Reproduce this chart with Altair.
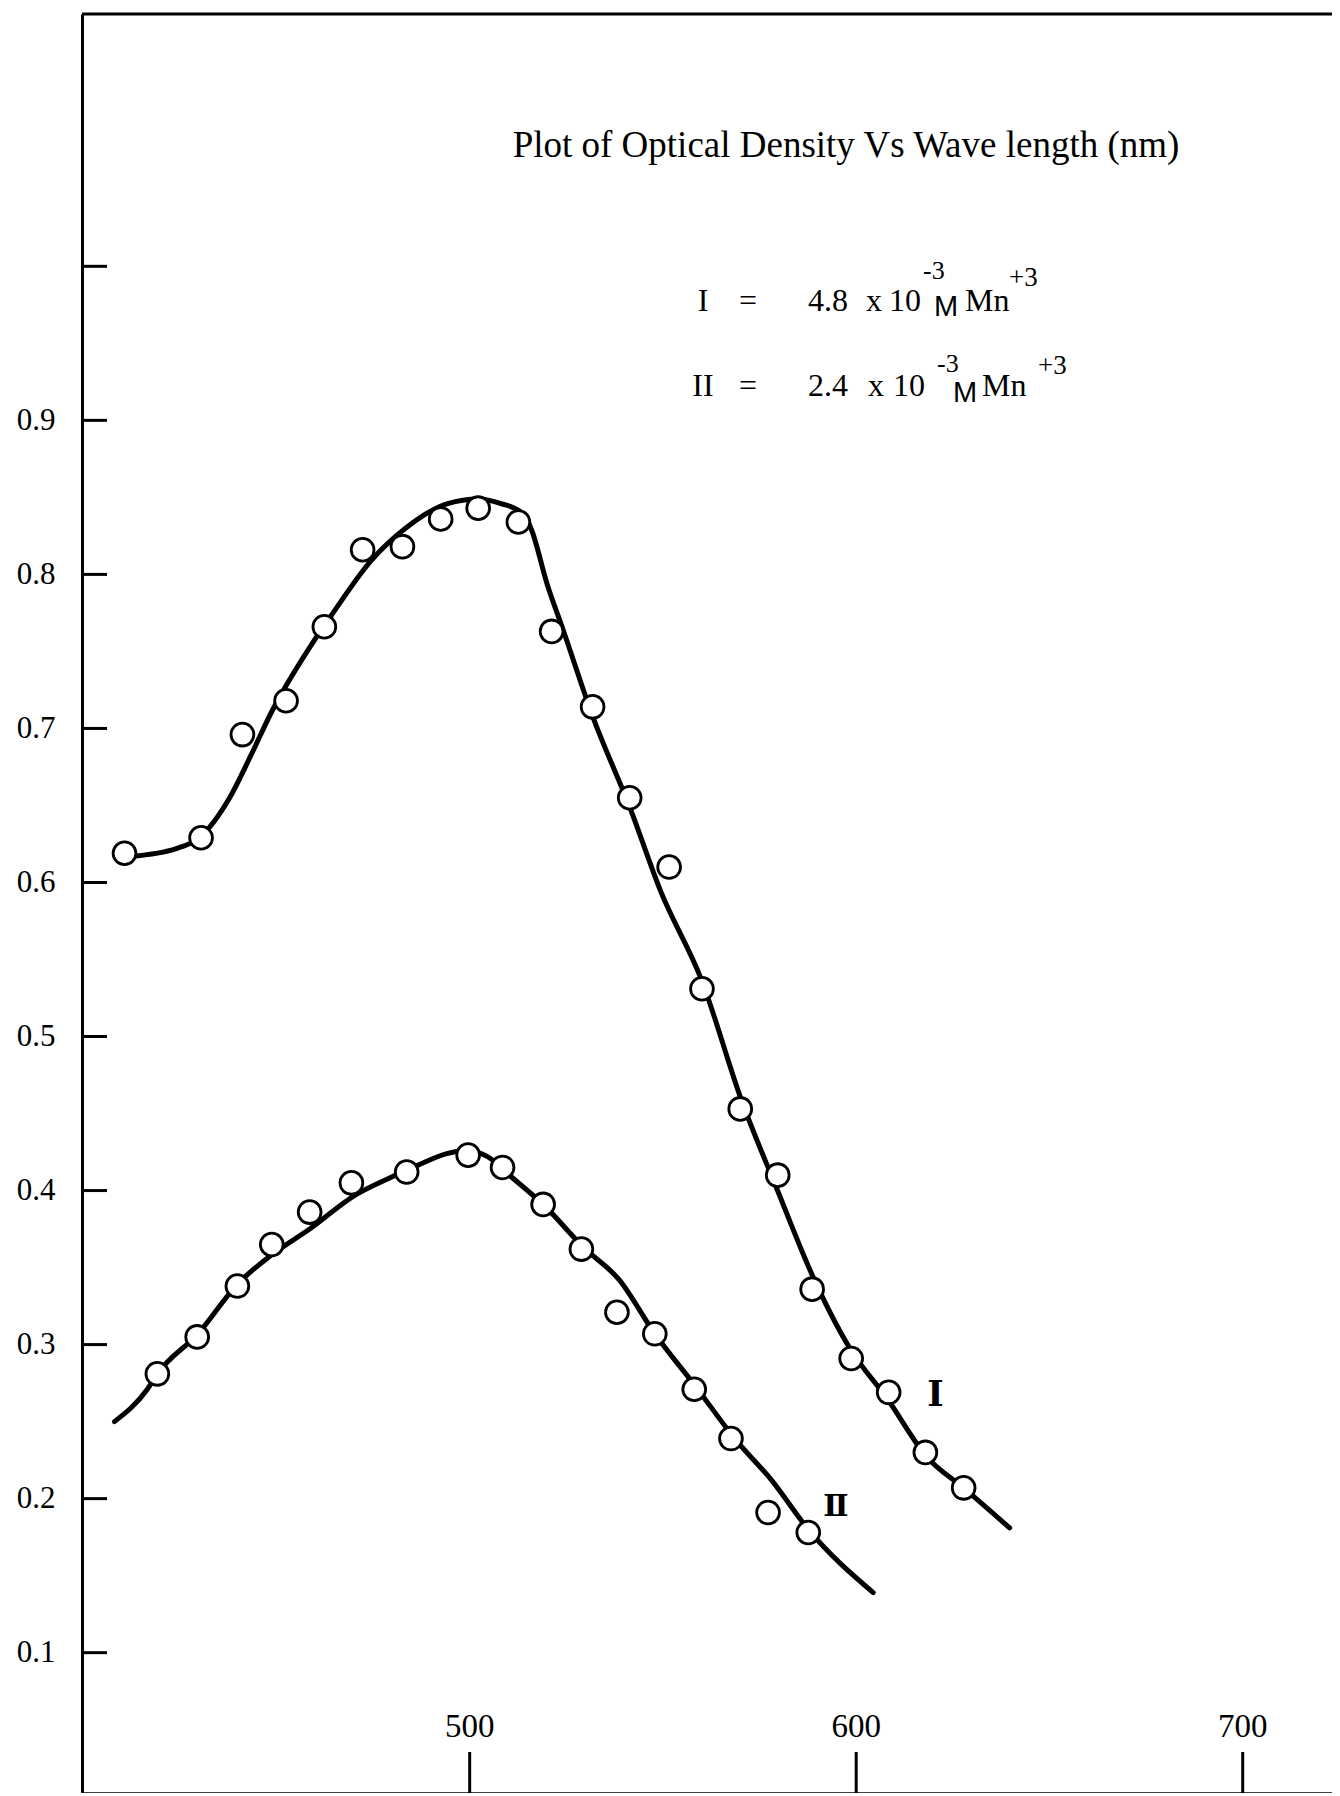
import altair as alt
import pandas as pd

# ---------------- data ----------------
# Curve I (4.8 x 10^-3 M Mn+3): measured points
wl_I = [410.7, 430.5, 441.2, 452.5, 462.4, 472.3, 482.6, 492.5, 502.2, 512.6, 521.2,
        531.8, 541.4, 551.6, 560.1, 570.0, 579.7, 588.6, 598.7, 608.4, 617.9, 627.8]
od_I = [0.619, 0.629, 0.696, 0.718, 0.766, 0.816, 0.818, 0.836, 0.843, 0.834, 0.763,
        0.714, 0.655, 0.610, 0.531, 0.453, 0.410, 0.336, 0.291, 0.269, 0.230, 0.207]
# Curve I hand-drawn smooth line
fit_wl_I = [412.5, 424.1, 430.0, 437.9, 443.3, 448.8, 458.7, 464.1, 474.5, 483.4, 494.3,
            502.2, 508.1, 514.0, 516.0, 520.0, 523.9, 531.8, 541.7, 549.3, 560.1, 570.4,
            579.5, 589.0, 598.5, 608.0, 618.3, 627.8, 639.7]
fit_od_I = [0.617, 0.622, 0.629, 0.655, 0.682, 0.711, 0.753, 0.773, 0.809, 0.830, 0.846,
            0.849, 0.846, 0.839, 0.829, 0.794, 0.766, 0.708, 0.647, 0.595, 0.536, 0.458,
            0.401, 0.343, 0.297, 0.265, 0.227, 0.207, 0.181]

# Curve II (2.4 x 10^-3 M Mn+3): measured points
wl_II = [419.2, 429.5, 439.9, 448.8, 458.6, 469.4, 483.7, 499.6, 508.5, 519.0, 528.9,
         538.1, 547.9, 558.1, 567.6, 577.2, 587.6]
od_II = [0.281, 0.305, 0.338, 0.365, 0.386, 0.405, 0.412, 0.423, 0.415, 0.391, 0.362,
         0.321, 0.307, 0.271, 0.239, 0.191, 0.178]
# Curve II hand-drawn smooth line
fit_wl_II = [408.1, 416.6, 419.2, 429.7, 440.2, 448.1, 458.6, 470.4, 478.3, 486.2, 494.1,
             499.3, 504.6, 511.2, 519.0, 529.5, 538.7, 547.9, 558.4, 568.9, 578.1, 587.6, 604.4]
fit_od_II = [0.250, 0.271, 0.281, 0.307, 0.340, 0.357, 0.375, 0.397, 0.407, 0.416, 0.424,
             0.426, 0.422, 0.408, 0.391, 0.363, 0.342, 0.307, 0.273, 0.238, 0.212, 0.180, 0.139]

# Axes
y_label_values = [0.1, 0.2, 0.3, 0.4, 0.5, 0.6, 0.7, 0.8, 0.9]
y_tick_values = [0.1, 0.2, 0.3, 0.4, 0.5, 0.6, 0.7, 0.8, 0.9, 1.0]
x_tick_values = [500, 600, 700]

# Texts
title_text = "Plot of Optical Density Vs Wave length (nm)"
legend_center_texts = ["I", "=", "x", "II", "=", "x"]
legend_left_texts = ["4.8", "10", "-3", "Mn", "+3", "2.4", "10", "-3", "Mn", "+3"]
legend_m_texts = ["M", "M"]
curve_label_texts = ["Ⅰ", "Ⅱ"]

# ---------------- layout (pixels inside plot area) ----------------
W, H = 1250, 1779
X_DOMAIN = [399.7, 723.1]
Y_DOMAIN = [0.0089, 1.1638]

center_px = [764, 621, 666, 792, 621, 666, 794]
center_py = [143, 297, 297, 297, 382, 382, 382]
center_fs = [37, 32, 32, 32, 32, 32, 32]

left_px = [726, 807, 841, 883, 927, 726, 811, 855, 900, 956]
left_py = [297, 297, 265, 297, 272, 382, 382, 358, 382, 360]
left_fs = [32, 32, 26, 32, 27, 32, 32, 26, 32, 27]

m_px = [852, 871]
m_py = [302, 388]
m_fs = [29, 29]

cl_px = [853.5, 754]
cl_py = [1380.5, 1493]
cl_fs = [35, 30]

# ---------------- build chart ----------------
pts = pd.concat([
    pd.DataFrame({"wl": wl_I, "od": od_I, "curve": "I"}),
    pd.DataFrame({"wl": wl_II, "od": od_II, "curve": "II"}),
])
fits = pd.concat([
    pd.DataFrame({"wl": fit_wl_I, "od": fit_od_I, "curve": "I", "o": range(len(fit_wl_I))}),
    pd.DataFrame({"wl": fit_wl_II, "od": fit_od_II, "curve": "II", "o": range(len(fit_wl_II))}),
])

x_axis = alt.Axis(labels=False, ticks=False, tickSize=0, grid=False, domain=True,
                  domainColor="black", domainWidth=2.5, title=None)
y_axis = alt.Axis(values=y_label_values, format=".1f", labelFont="Liberation Serif",
                  labelFontSize=31, labelColor="black", labelPadding=27, ticks=False,
                  tickSize=0, grid=False, domain=True, domainColor="black",
                  domainWidth=3, title=None, labelFlush=False, labelOverlap=False)

xs = alt.Scale(domain=X_DOMAIN, nice=False, zero=False)
ys = alt.Scale(domain=Y_DOMAIN, nice=False, zero=False)

lines = alt.Chart(fits).mark_line(interpolate="monotone", color="black",
                                  strokeWidth=5, strokeCap="round").encode(
    x=alt.X("wl:Q", scale=xs, axis=x_axis),
    y=alt.Y("od:Q", scale=ys, axis=y_axis),
    detail="curve:N",
    order="o:Q",
)

points = alt.Chart(pts).mark_point(shape="circle", filled=True, fill="white",
                                   stroke="black", strokeWidth=2.8, size=520,
                                   opacity=1).encode(
    x=alt.X("wl:Q", scale=xs, axis=x_axis),
    y=alt.Y("od:Q", scale=ys, axis=y_axis),
)

ytick_rules = alt.Chart(pd.DataFrame({"v": y_tick_values})).mark_rule(
    color="black", strokeWidth=3).encode(
    y=alt.Y("v:Q", scale=ys, axis=y_axis),
    x=alt.value(0), x2=alt.value(25),
)

xtick_rules = alt.Chart(pd.DataFrame({"v": x_tick_values})).mark_rule(
    color="black", strokeWidth=3).encode(
    x=alt.X("v:Q", scale=xs, axis=x_axis),
    y=alt.value(1738), y2=alt.value(H),
)

xtick_labels = alt.Chart(pd.DataFrame({"v": x_tick_values, "t": [str(v) for v in x_tick_values]})).mark_text(
    font="Liberation Serif", fontSize=33, color="black", baseline="middle", align="center").encode(
    x=alt.X("v:Q", scale=xs, axis=x_axis),
    y=alt.value(1713),
    text="t:N",
)

top_border = alt.Chart(pd.DataFrame({"a": [0]})).mark_rule(color="black", strokeWidth=3).encode(
    x=alt.value(0), x2=alt.value(W), y=alt.value(0),
)

center_df = pd.DataFrame({"t": [title_text] + legend_center_texts,
                          "px": center_px, "py": center_py, "fs": center_fs})
left_df = pd.DataFrame({"t": legend_left_texts, "px": left_px, "py": left_py, "fs": left_fs})
m_df = pd.DataFrame({"t": legend_m_texts, "px": m_px, "py": m_py, "fs": m_fs})
cl_df = pd.DataFrame({"t": curve_label_texts, "px": cl_px, "py": cl_py, "fs": cl_fs})


def text_layer(df, font, align, baseline, weight="normal"):
    return alt.Chart(df).mark_text(font=font, align=align, baseline=baseline,
                                   color="black", fontWeight=weight).encode(
        x=alt.X("px:Q", scale=None, axis=None),
        y=alt.Y("py:Q", scale=None, axis=None),
        size=alt.Size("fs:Q", scale=None, legend=None),
        text="t:N",
    )


ann_center = text_layer(center_df, "Liberation Serif", "center", "alphabetic")
ann_left = text_layer(left_df, "Liberation Serif", "left", "alphabetic")
ann_m = text_layer(m_df, "Liberation Sans", "left", "alphabetic")
ann_cl = text_layer(cl_df, "DejaVu Serif", "center", "middle", "bold")

chart = alt.layer(
    lines, points, ytick_rules, xtick_rules, xtick_labels, top_border,
    ann_center, ann_left, ann_m, ann_cl,
).properties(
    width=W, height=H,
    padding={"left": 74, "top": 6, "right": 0, "bottom": 0},
    autosize=alt.AutoSizeParams(type="none"),
    background="white",
).configure_view(strokeWidth=0)

chart.save("out.html", embed_options={"renderer": "svg", "actions": False})
